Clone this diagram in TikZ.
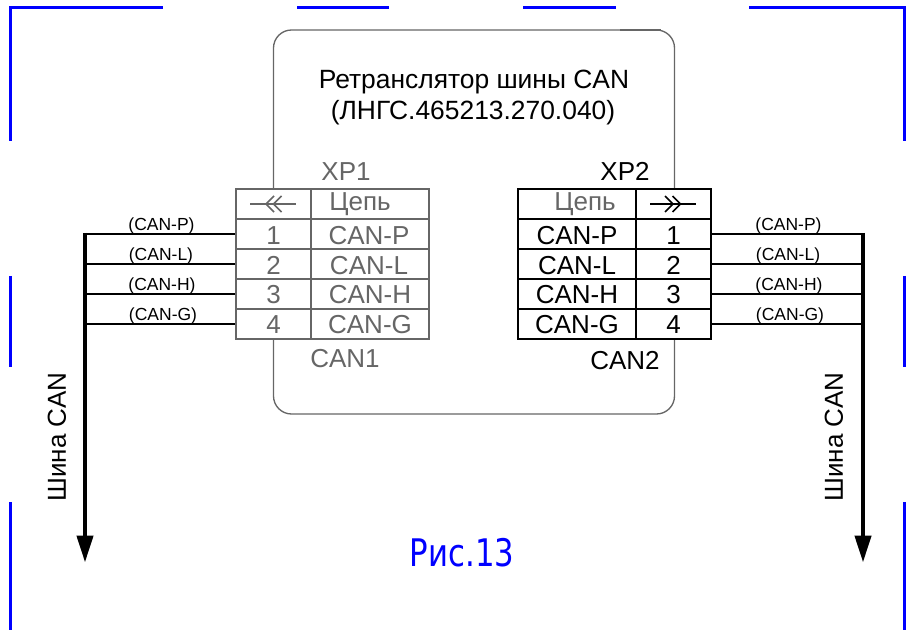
\documentclass[tikz,border=0pt]{standalone}
\usepackage{fontspec}
\setmainfont{Liberation Sans}
\newfontfamily\capfont{DejaVu Sans Condensed}
\usetikzlibrary{arrows.meta}
\definecolor{dgray}{HTML}{666666}
\definecolor{fblue}{HTML}{0000FF}
\newcommand{\fs}[1]{\fontsize{\dimexpr#1pt*3/4\relax}{\dimexpr#1pt\relax}\selectfont}
\tikzset{
  frameline/.style={draw=fblue,line width=2.25pt},
  devbox/.style={draw=dgray,line width=1pt,rounded corners=13.5pt},
  cellbase/.style={rectangle,fill=white,line width=1.3pt,inner sep=0pt,minimum height=22.5pt},
  gcell/.style={cellbase,draw=dgray},
  kcell/.style={cellbase,draw=black},
  numw/.style={minimum width=56.25pt},
  netgw/.style={minimum width=88.5pt},
  netkw/.style={minimum width=88.875pt},
  wire/.style={draw=black,line width=1pt},
  wiretop/.style={draw=black,line width=1.5pt},
  bus/.style={draw=black,line width=3.2pt,-{Triangle[length=20.25pt,width=12pt]}},
  wlabel/.style={font=\fs{17.5},inner sep=0pt,text=black},
  tlabel/.style={font=\fs{26},inner sep=0pt},
  symline/.style={line width=1.1pt},
}
\begin{document}
\begin{tikzpicture}[x=0.75pt,y=-0.75pt]
\useasboundingbox (0,0) rectangle (906,630);
% sheet frame marks
\draw[frameline] (10,141) -- (10,8) -- (163,8);
\draw[frameline] (297,8) -- (389,8);
\draw[frameline] (523,8) -- (616,8);
\draw[frameline] (749,8) -- (904,8) -- (904,141);
\draw[frameline] (10,276) -- (10,367);
\draw[frameline] (904,276) -- (904,367);
\draw[frameline] (10,502) -- (10,630);
\draw[frameline] (904,502) -- (904,630);
% device box
\draw[devbox] (273.5,30) rectangle (674.5,414);
\draw[dgray,line width=1.6pt] (620,30) -- (661,30);
\node[inner sep=0pt,font=\fs{26.4}] (title1) at (474,82) {Ретранслятор шины CAN};
\node[inner sep=0pt,font=\fs{26.4}] (title2) at (473,113) {(ЛНГС.465213.270.040)};
% left table
\node[gcell,numw]  (lh1) at (273.5,204) {};
\node[gcell,netgw] (lh2) at (370,204) {};
\node[gcell,numw]  (l1) at (273.5,234) {};
\node[gcell,netgw] (ln1) at (370,234) {};
\node[gcell,numw]  (l2) at (273.5,264) {};
\node[gcell,netgw] (ln2) at (370,264) {};
\node[gcell,numw]  (l3) at (273.5,294) {};
\node[gcell,netgw] (ln3) at (370,294) {};
\node[gcell,numw]  (l4) at (273.5,324) {};
\node[gcell,netgw] (ln4) at (370,324) {};
\node[tlabel,text=dgray] at (273.5,235.5) {1};
\node[tlabel,text=dgray] at (273.5,265.5) {2};
\node[tlabel,text=dgray] at (273.5,295) {3};
\node[tlabel,text=dgray] at (273.5,325) {4};
\node[tlabel,text=dgray] at (369,235.5) {CAN-P};
\node[tlabel,text=dgray] at (369,265.5) {CAN-L};
\node[tlabel,text=dgray] at (370,295) {CAN-H};
\node[tlabel,text=dgray] at (370,325) {CAN-G};
\node[tlabel,text=dgray] (lcep) at (360,204.5) {Цепь};
% right table
\node[kcell,netkw] (rh2) at (577,204) {};
\node[kcell,numw]  (rh1) at (673.5,204) {};
\node[kcell,netkw] (rn1) at (577,234) {};
\node[kcell,numw]  (r1) at (673.5,234) {};
\node[kcell,netkw] (rn2) at (577,264) {};
\node[kcell,numw]  (r2) at (673.5,264) {};
\node[kcell,netkw] (rn3) at (577,294) {};
\node[kcell,numw]  (r3) at (673.5,294) {};
\node[kcell,netkw] (rn4) at (577,324) {};
\node[kcell,numw]  (r4) at (673.5,324) {};
\node[tlabel] at (673.5,235.5) {1};
\node[tlabel] at (673.5,265.5) {2};
\node[tlabel] at (673.5,295) {3};
\node[tlabel] at (673.5,325) {4};
\node[tlabel] at (577,235.5) {CAN-P};
\node[tlabel] at (577,265.5) {CAN-L};
\node[tlabel] at (577,295) {CAN-H};
\node[tlabel] at (577,325) {CAN-G};
\node[tlabel,text=dgray] (rcep) at (585,204.5) {Цепь};
% connector symbols
\draw[dgray,symline] (250,204) -- (296,204);
\draw[dgray,symline] (274,196) -- (266,204) -- (274,212);
\draw[dgray,symline] (281.5,196) -- (273.5,204) -- (281.5,212);
\draw[black,symline] (650,204) -- (696,204);
\draw[black,symline] (665,196) -- (673,204) -- (665,212);
\draw[black,symline] (672.5,196) -- (680.5,204) -- (672.5,212);
% connector names
\node[tlabel,text=dgray] (xp1) at (346,172) {XP1};
\node[tlabel,text=black] (xp2) at (625,171) {XP2};
\node[tlabel,text=dgray] (can1) at (345,359) {CAN1};
\node[tlabel,text=black] (can2) at (625,361) {CAN2};
% bus coordinates
\coordinate (lb1) at (85,234);
\coordinate (lb2) at (85,264);
\coordinate (lb3) at (85,294);
\coordinate (lb4) at (85,324);
\coordinate (lbend) at (85,562.5);
\coordinate (rb1) at (863,234);
\coordinate (rb2) at (863,264);
\coordinate (rb3) at (863,294);
\coordinate (rb4) at (863,324);
\coordinate (rbend) at (863,562.5);
% wires
\draw[wiretop] (l1.west) -- (lb1);
\draw[wire] (l2.west) -- (lb2);
\draw[wire] (l3.west) -- (lb3);
\draw[wire] (l4.west) -- (lb4);
\draw[wiretop] (r1.east) -- (rb1);
\draw[wire] (r2.east) -- (rb2);
\draw[wire] (r3.east) -- (rb3);
\draw[wire] (r4.east) -- (rb4);
\draw[bus] (85,233) -- (lbend);
\draw[bus] (863,233) -- (rbend);
% wire labels
\node[wlabel] (wl1) at (161.5,225.5) {(CAN-P)};
\node[wlabel] (wl2) at (161,255.5) {(CAN-L)};
\node[wlabel] (wl3) at (162,285.5) {(CAN-H)};
\node[wlabel] (wl4) at (163,315.5) {(CAN-G)};
\node[wlabel] (wr1) at (788.5,225.5) {(CAN-P)};
\node[wlabel] (wr2) at (788,255.5) {(CAN-L)};
\node[wlabel] (wr3) at (789,285.5) {(CAN-H)};
\node[wlabel] (wr4) at (790,315.5) {(CAN-G)};
% bus names
\node[rotate=90,inner sep=0pt,font=\fs{26}] (bl) at (57,437) {Шина CAN};
\node[rotate=90,inner sep=0pt,font=\fs{26}] (br) at (834,437) {Шина CAN};
% caption
\node[inner sep=0pt,text=fblue,font=\capfont\fs{38},xscale=0.9] (cap) at (462,553) {Рис.13};
\end{tikzpicture}
\end{document}
